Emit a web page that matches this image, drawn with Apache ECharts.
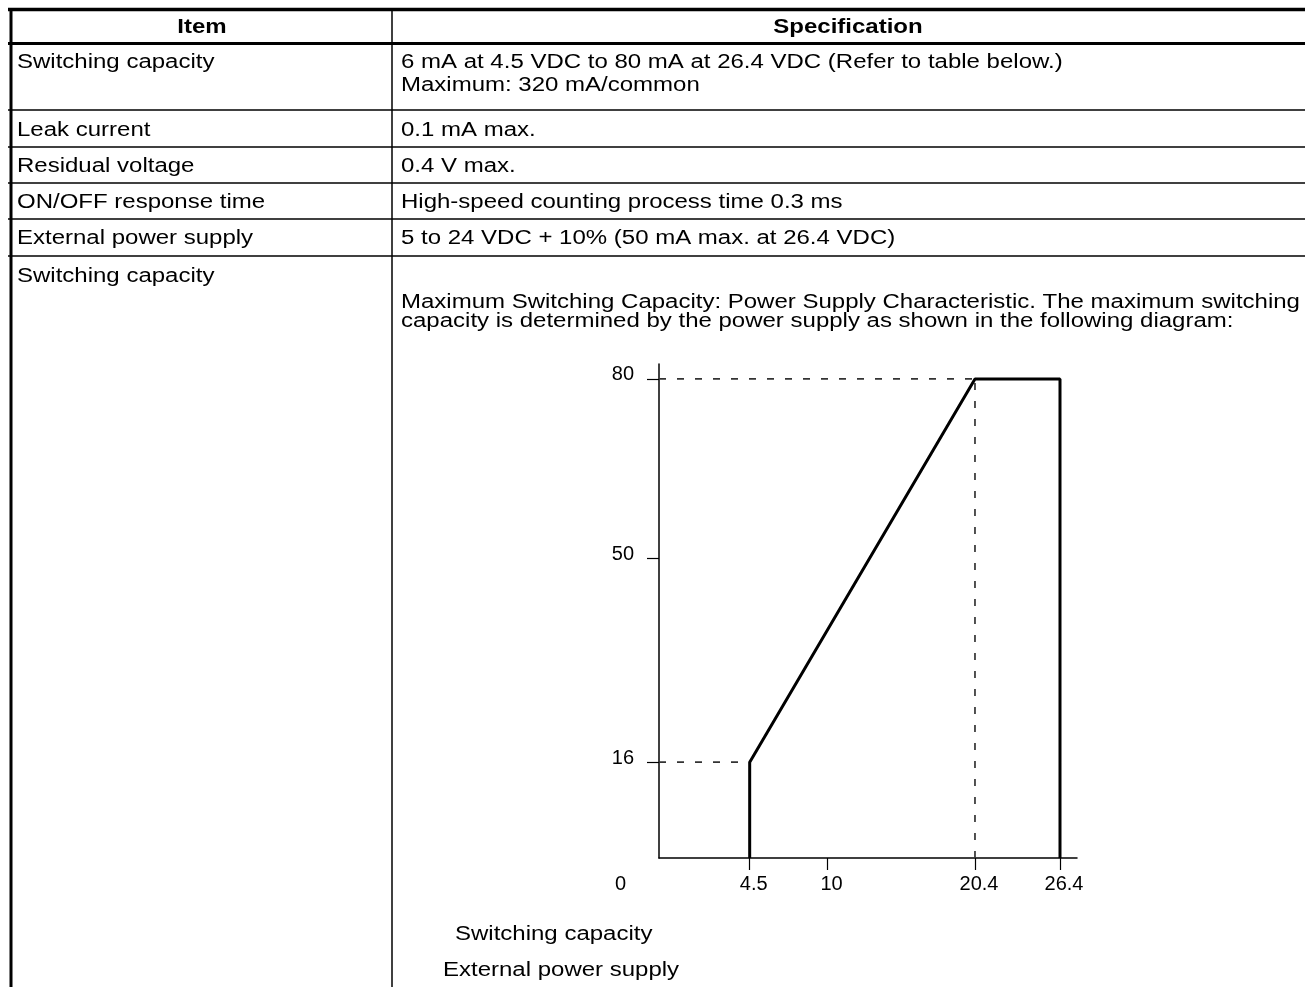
<!DOCTYPE html>
<html>
<head>
<meta charset="utf-8">
<script src="https://cdn.jsdelivr.net/npm/echarts@6/dist/echarts.min.js"></script>
<style>
html, body { margin: 0; padding: 0; background: #fff; }
#main { width: 1305px; height: 987px; }
</style>
</head>
<body>
<div id="main"></div>
<script>
// table text
const headers = ['Item', 'Specification'];
const items = ['Switching capacity', 'Leak current', 'Residual voltage', 'ON/OFF response time', 'External power supply', 'Switching capacity'];
const specs = [
  ['6 mA at 4.5 VDC to 80 mA at 26.4 VDC (Refer to table below.)', 'Maximum: 320 mA/common'],
  ['0.1 mA max.'],
  ['0.4 V max.'],
  ['High-speed counting process time 0.3 ms'],
  ['5 to 24 VDC + 10% (50 mA max. at 26.4 VDC)'],
  ['Maximum Switching Capacity: Power Supply Characteristic. The maximum switching',
   'capacity is determined by the power supply as shown in the following diagram:']
];
const yName = 'Switching capacity';
const xName = 'External power supply';

// diagram data: power supply (VDC) -> max switching capacity (mA)
const supplyV = [4.5, 4.5, 20.4, 26.4, 26.4];
const capacityMA = [0, 16, 80, 80, 0];
const xTicks = [4.5, 10, 20.4, 26.4];
const yTicks = [16, 50, 80];
const yLabels = [0, 16, 50, 80];

const X_MIN = -1.9, X_MAX = 27.6;
const FONT = '"Liberation Sans", Arial, sans-serif';
const SX = 1.2; // the source page text is stretched sideways

let chart = echarts.init(document.getElementById('main'));

function txt(x, y, s, bold, align) {
  return {
    type: 'text', x: x, y: y, scaleX: SX, z: 10,
    style: {
      text: s, fill: '#000',
      font: (bold ? 'bold ' : '') + '20px ' + FONT,
      textAlign: align || 'left', align: align || 'left',
      textVerticalAlign: 'middle', verticalAlign: 'middle'
    }
  };
}
function ln(x1, y1, x2, y2, w) {
  return { type: 'line', z: 10, shape: { x1: x1, y1: y1, x2: x2, y2: y2 }, style: { stroke: '#000', lineWidth: w } };
}

// table grid
const colX = 392, leftX = 11, rightX = 1305;
const rowLines = [110, 147, 183, 219, 256];
const rowTextY = [62, 130, 166, 202, 238, 276];
const g = [];
g.push(ln(8, 9.5, rightX, 9.5, 3.5));
g.push(ln(leftX, 8, leftX, 987, 3));
g.push(ln(8, 43.5, rightX, 43.5, 3));
g.push(ln(colX, 9, colX, 987, 1.5));
rowLines.forEach(y => g.push(ln(8, y, rightX, y, 1.5)));

g.push(txt(202, 27, headers[0], true, 'center'));
g.push(txt(848, 27, headers[1], true, 'center'));
items.forEach((s, i) => g.push(txt(17, rowTextY[i], s)));
specs.forEach((lines, i) => {
  lines.forEach((s, j) => {
    let y = i === 5 ? 302 + j * 19 : rowTextY[i] + j * 23;
    g.push(txt(401, y, s));
  });
});
g.push(txt(455, 934, yName));
g.push(txt(443, 970, xName));

const dashed = { color: '#333', width: 1.7, type: [7, 11] };
const kneePt = [supplyV[1], capacityMA[1]];
const peakPt = [supplyV[2], capacityMA[2]];

let option = {
  animation: false,
  backgroundColor: '#fff',
  graphic: g,
  grid: { left: 659, top: 364, width: 418, height: 494, outerBoundsMode: 'none' },
  xAxis: {
    type: 'value', min: X_MIN, max: X_MAX,
    splitLine: { show: false },
    axisLine: { show: true, onZero: false, lineStyle: { color: '#000', width: 1.5 } },
    axisTick: { show: true, customValues: xTicks, length: 12, lineStyle: { color: '#000', width: 1.2 } },
    axisLabel: {
      customValues: xTicks, margin: 16, color: '#000', fontSize: 20, fontFamily: FONT,
      padding: [0, 0, 0, 8], formatter: v => String(v)
    }
  },
  yAxis: {
    type: 'value', min: 0, max: 82.5,
    splitLine: { show: false },
    axisLine: { show: true, onZero: false, lineStyle: { color: '#000', width: 1.5 } },
    axisTick: { show: true, customValues: yTicks, length: 12, lineStyle: { color: '#000', width: 1.2 } },
    axisLabel: {
      customValues: yLabels, margin: 25, color: '#000', fontSize: 20, fontFamily: FONT,
      formatter: v => v === 0 ? '{o|0}' : '{t|' + v + '}',
      rich: {
        o: { padding: [52, 8, 0, 0], fontSize: 20, fontFamily: FONT, color: '#000' },
        t: { padding: [0, 0, 8, 0], fontSize: 20, fontFamily: FONT, color: '#000' }
      }
    }
  },
  series: [
    {
      type: 'line', symbol: 'none', z: 5,
      data: supplyV.map((x, i) => [x, capacityMA[i]]),
      lineStyle: { color: '#000', width: 3 }
    },
    { type: 'line', symbol: 'none', data: [[X_MIN, peakPt[1]], peakPt], lineStyle: dashed },
    { type: 'line', symbol: 'none', data: [[X_MIN, kneePt[1]], kneePt], lineStyle: dashed },
    { type: 'line', symbol: 'none', data: [[peakPt[0], 0], peakPt], lineStyle: dashed }
  ]
};
chart.setOption(option);
window.addEventListener('resize', () => { chart.resize(); });
</script>
</body>
</html>
